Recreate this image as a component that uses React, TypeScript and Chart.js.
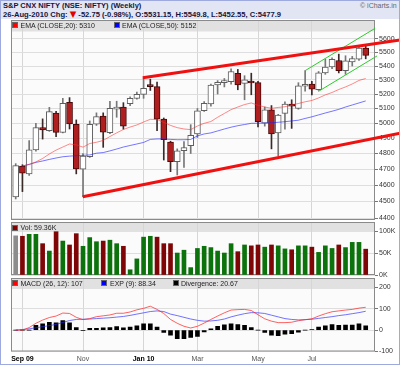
import React, { useEffect, useRef } from "react";
import { Chart, registerables } from "chart.js";

Chart.register(...registerables);

const FONT = '"Liberation Sans", Arial, Helvetica, sans-serif';

// ---------- data (weekly bars) ----------
const weekEnding = [
  "2009-08-28", "2009-09-04", "2009-09-11", "2009-09-18", "2009-09-25",
  "2009-10-02", "2009-10-09", "2009-10-16", "2009-10-23", "2009-10-30",
  "2009-11-06", "2009-11-13", "2009-11-20", "2009-11-27",
  "2009-12-04", "2009-12-11", "2009-12-18", "2009-12-24", "2009-12-31",
  "2010-01-08", "2010-01-15", "2010-01-22", "2010-01-29",
  "2010-02-05", "2010-02-12", "2010-02-19", "2010-02-26",
  "2010-03-05", "2010-03-12", "2010-03-19", "2010-03-26",
  "2010-04-01", "2010-04-09", "2010-04-16", "2010-04-23", "2010-04-30",
  "2010-05-07", "2010-05-14", "2010-05-21", "2010-05-28",
  "2010-06-04", "2010-06-11", "2010-06-18", "2010-06-25",
  "2010-07-02", "2010-07-09", "2010-07-16", "2010-07-23", "2010-07-30",
  "2010-08-06", "2010-08-13", "2010-08-20", "2010-08-26",
];

const opens = [
  4527, 4720, 4670, 4823, 4970, 4950, 5069, 4939, 5143, 4993,
  4700, 4780, 4993, 5048, 4937, 5095, 5110, 5133, 5170, 5198,
  5262, 5252, 5027, 4875, 4748, 4818, 4851, 4928, 5085, 5131,
  5264, 5280, 5287, 5347, 5275, 5290, 5280, 5000, 5090, 4935,
  5066, 5130, 5100, 5255, 5270, 5230, 5350, 5393, 5440, 5367,
  5430, 5450, 5531.15,
];
const highs = [
  4735, 4728, 4884, 4999, 5029, 5108, 5080, 5170, 5175, 5022,
  4800, 5015, 5070, 5070, 5150, 5150, 5140, 5180, 5214, 5312,
  5305, 5285, 5035, 4880, 4830, 4877, 4990, 5100, 5148, 5270,
  5295, 5310, 5380, 5375, 5330, 5348, 5290, 5110, 5120, 5060,
  5145, 5160, 5280, 5366, 5290, 5360, 5450, 5460, 5487, 5475,
  5470, 5545, 5549.8,
];
const lows = [
  4515, 4560, 4660, 4815, 4894, 4945, 4910, 4935, 4961, 4670,
  4529, 4775, 4985, 4840, 4930, 5040, 4960, 5120, 5165, 5170,
  5225, 4950, 4758, 4684, 4663, 4711, 4800, 4905, 5080, 5115,
  5200, 5250, 5270, 5230, 5160, 5195, 4975, 4980, 4830, 4785,
  4960, 4965, 5095, 5220, 5193, 5225, 5340, 5380, 5350, 5340,
  5400, 5440, 5452.55,
];
const closes = [
  4722, 4674, 4823, 4970, 4955, 5078, 4939, 5136, 4995, 4701,
  4784, 4993, 5044, 4940, 5101, 5110, 4980, 5170, 5198, 5240,
  5252, 5027, 4890, 4748, 4818, 4838, 4919, 5083, 5136, 5264,
  5283, 5295, 5360, 5264, 5300, 5278, 5010, 5090, 4928, 5055,
  5130, 5115, 5258, 5269, 5235, 5350, 5393, 5449, 5367, 5437,
  5455, 5531, 5477.9,
];

const ema20 = [
  null, 4720, 4730, 4746, 4768, 4797, 4822, 4842, 4862, 4856,
  4841, 4865, 4873, 4885, 4911, 4935, 4958, 4974, 4988, 5008,
  5026, 5025, 5005, 4985, 4970, 4961, 4957, 4981, 4999, 5011,
  5040, 5066, 5092, 5110, 5127, 5138, 5122, 5110, 5101, 5107,
  5112, 5124, 5134, 5146, 5155, 5173, 5194, 5211, 5232, 5250,
  5271, 5296, 5310,
];
const ema50 = [
  null, 4720, 4730, 4743, 4752, 4762, 4771, 4779, 4783, 4786,
  4788, 4791, 4802, 4806, 4817, 4829, 4842, 4852, 4862, 4872,
  4892, 4895, 4895, 4892, 4890, 4890, 4892, 4915, 4928, 4935,
  4948, 4961, 4973, 4983, 4991, 4999, 5000, 5001, 5003, 5006,
  5010, 5015, 5020, 5032, 5043, 5056, 5069, 5081, 5094, 5110,
  5124, 5138, 5152,
];

// volume in thousands
const volumeK = [
  90, 89, 93.5, 93.5, 72, 55, 99.5, 78, 69, 95,
  66, 86, 76.5, 78, 80, 72, 66, 12, 37, 87,
  89, 87, 72, 72, 50.5, 57, 17, 61, 66, 63,
  55, 50.5, 72, 53.6, 69, 67, 69, 64, 69, 67,
  60, 58, 67, 67, 64, 52, 67, 61, 69, 63,
  75, 75, 59.36,
];

const macd = [
  0, 0, 12, 32, 47, 59, 66, 80, 78, 60,
  49, 54, 63, 67, 71, 79, 79, 85, 95, 102,
  112, 97, 78, 50, 32, 18, 10, 18, 33, 50,
  66, 81, 94, 96, 97, 92, 72, 53, 42, 35,
  35, 37, 44, 49, 53, 66, 77, 86, 90, 94,
  97, 103, 107,
];
const signal = [
  0, 3, 6, 11, 16, 21, 27, 36, 45, 50,
  51, 52, 54, 56, 58, 61, 64, 69, 75, 81,
  87, 90, 87, 75, 68, 60, 52, 46, 42, 43,
  46, 52, 62, 70, 77, 82, 81, 78, 70, 62,
  54, 50, 48, 49, 51, 55, 59, 63, 68, 72,
  77, 82, 88.34,
];
const divergence = [
  0, 0, 0, 22, 29, 37, 34, 45, 34, 12,
  -3, 8, 8, 11, 12, 17, 11, 14, 20, 29,
  29, 14, -11, -23, -40, -40, -34, -29, -8, 6,
  18, 25, 30, 26, 22, 12, 0, -11, -23, -26,
  -19, -17, -9, 0, 2, 14, 20, 26, 23, 24,
  24, 29, 20.67,
];

// trendlines drawn on the chart (bar index, price)
const upperChannel = [{ x: 18.87, y: 5316 }, { x: 57.1, y: 5592 }];
const lowerChannel = [{ x: 9.96, y: 4529 }, { x: 57.1, y: 4933 }];
const upperFlag = [{ x: 42.99, y: 5366 }, { x: 53.39, y: 5681 }];
const lowerFlag = [{ x: 44.96, y: 5218 }, { x: 53.69, y: 5474 }];

const monthTickIdx = [1, 10, 19, 27, 36, 44];
const monthTickLabels = ["Sep 09", "Nov", "Jan 10", "Mar", "May", "Jul"];
const priceTicks = [4400, 4500, 4600, 4700, 4800, 4900, 5000, 5100, 5200, 5300, 5400, 5500, 5600];
const volumeTicks = [0, 50, 100];
const macdTicks = [-100, 0, 100, 200];

// ---------- helpers ----------
const idx = weekEnding.map((_, i) => i);
const X_MIN = -0.698;
const X_MAX = 53.38;

function xAxis(showLabels: boolean): any {
  return {
    type: "linear",
    min: X_MIN,
    max: X_MAX,
    offset: false,
    bounds: "data",
    afterBuildTicks: (s: any) => {
      s.ticks = monthTickIdx.map((v) => ({ value: v }));
    },
    afterFit: (s: any) => {
      s.height = showLabels ? 13.5 : 0;
    },
    grid: { color: "#d6d6d6", drawTicks: false, lineWidth: 1, offset: false },
    border: { display: false },
    ticks: showLabels
      ? {
          display: true,
          autoSkip: false,
          maxRotation: 0,
          padding: 3,
          callback: (v: number) => {
            const k = monthTickIdx.indexOf(v);
            return k >= 0 ? monthTickLabels[k] : "";
          },
          font: (c: any) => ({
            family: FONT,
            size: 7,
            weight: /\d/.test(monthTickLabels[c.index] || "") ? "bold" : "normal",
          }),
          color: (c: any) => (/\d/.test(monthTickLabels[c.index] || "") ? "#000" : "#555"),
        }
      : { display: false },
  };
}

function yAxis(extra: any, tickValues: number[], fmt: (v: number) => string, hidden: number[]): any {
  return {
    position: "right",
    ...extra,
    afterBuildTicks: (s: any) => {
      s.ticks = tickValues.map((v) => ({ value: v }));
    },
    afterFit: (s: any) => {
      s.width = 25;
    },
    grid: {
      color: (c: any) => (c.tick && hidden.includes(c.tick.value) ? "rgba(0,0,0,0)" : "#dedede"),
      tickColor: "#777",
      tickLength: 3,
      drawTicks: true,
    },
    border: { display: false },
    ticks: {
      padding: 1,
      color: "#333",
      font: { family: FONT, size: 7 },
      callback: (v: number) => fmt(v),
    },
  };
}

function panelPlugin(bandH: number): any {
  return {
    id: "panel",
    beforeDraw(chart: any) {
      const { ctx, chartArea: a } = chart;
      ctx.save();
      ctx.fillStyle = "#fbfbfb";
      ctx.fillRect(a.left, a.top, a.right - a.left, a.bottom - a.top);
      ctx.fillStyle = "#e1e1e1";
      ctx.fillRect(a.left, a.top, a.right - a.left, bandH);
      ctx.restore();
    },
    beforeDatasetsDraw(chart: any) {
      const { ctx, chartArea: a } = chart;
      ctx.save();
      ctx.strokeStyle = "#8a8a8a";
      ctx.lineWidth = 1;
      ctx.strokeRect(a.left + 0.5, a.top + 0.5, a.right - a.left - 1, a.bottom - a.top - 1);
      ctx.restore();
    },
  };
}

const baseOptions = (padding: any): any => ({
  responsive: false,
  animation: false,
  devicePixelRatio: 1,
  events: [],
  layout: { padding },
  plugins: { legend: { display: false }, tooltip: { enabled: false } },
});

export default function App() {
  const priceRef = useRef<HTMLCanvasElement>(null);
  const volRef = useRef<HTMLCanvasElement>(null);
  const macdRef = useRef<HTMLCanvasElement>(null);

  useEffect(() => {
    const isDown = (i: number) => closes[i] < opens[i];

    const price = new Chart(priceRef.current as HTMLCanvasElement, {
      type: "bar",
      data: {
        datasets: [
          {
            type: "line",
            data: upperChannel,
            borderColor: "#f01010",
            borderWidth: 3,
            pointRadius: 0,
            clip: false,
            order: 0,
          } as any,
          {
            type: "line",
            data: lowerChannel,
            borderColor: "#f01010",
            borderWidth: 3,
            pointRadius: 0,
            clip: false,
            order: 0,
          } as any,
          {
            type: "line",
            data: upperFlag,
            borderColor: "#2bcc2b",
            borderWidth: 1,
            pointRadius: 0,
            clip: false,
            order: 0,
          } as any,
          {
            type: "line",
            data: lowerFlag,
            borderColor: "#2bcc2b",
            borderWidth: 1,
            pointRadius: 0,
            clip: false,
            order: 0,
          } as any,
          {
            type: "line",
            data: idx.map((i) => ({ x: i, y: ema20[i] })),
            borderColor: "rgba(255,40,40,0.55)",
            borderWidth: 1,
            pointRadius: 0,
            order: 1,
          } as any,
          {
            type: "line",
            data: idx.map((i) => ({ x: i, y: ema50[i] })),
            borderColor: "rgba(30,30,255,0.6)",
            borderWidth: 1,
            pointRadius: 0,
            order: 1,
          } as any,
          {
            type: "bar",
            data: idx.map((i) => ({ x: i, y: [opens[i], closes[i]] })),
            backgroundColor: idx.map((i) => (isDown(i) ? "#b01f1f" : "#ffffff")),
            borderColor: idx.map((i) => (isDown(i) ? "#4a0808" : "#5e5e5e")),
            borderWidth: 1,
            borderSkipped: false,
            barThickness: 6,
            grouped: false,
            minBarLength: 2,
            order: 2,
          } as any,
          {
            type: "bar",
            data: idx.map((i) => ({ x: i, y: [lows[i], highs[i]] })),
            backgroundColor: idx.map((i) => (isDown(i) ? "#3a2a2a" : "#777777")),
            borderWidth: 0,
            barThickness: 1,
            grouped: false,
            order: 3,
          } as any,
        ],
      },
      options: {
        ...baseOptions({ left: 11, right: 0, top: 20, bottom: 145 }),
        scales: {
          x: xAxis(false),
          y: yAxis({ type: "logarithmic", min: 4389, max: 5745 }, priceTicks, (v) => String(v), []),
        },
      },
      plugins: [panelPlugin(11.5)],
    });

    const volume = new Chart(volRef.current as HTMLCanvasElement, {
      type: "bar",
      data: {
        datasets: [
          {
            data: idx.map((i) => ({ x: i, y: volumeK[i] })),
            backgroundColor: idx.map((i) =>
              i === 0 ? "#8c8c8c" : closes[i] >= closes[i - 1] ? "#0c720c" : "#7e0606"
            ),
            borderWidth: 0,
            barThickness: 4,
          } as any,
        ],
      },
      options: {
        ...baseOptions({ left: 11, right: 0, top: 222, bottom: 90 }),
        scales: {
          x: xAxis(false),
          y: yAxis({ type: "linear", min: 0, max: 121.8 }, volumeTicks, (v) => v + "K", [100]),
        },
      },
      plugins: [panelPlugin(10)],
    });

    const osc = new Chart(macdRef.current as HTMLCanvasElement, {
      type: "bar",
      data: {
        datasets: [
          {
            type: "line",
            data: idx.map((i) => ({ x: i, y: macd[i] })),
            borderColor: "rgba(255,30,30,0.7)",
            borderWidth: 1,
            pointRadius: 0,
            order: 0,
          } as any,
          {
            type: "line",
            data: idx.map((i) => ({ x: i, y: signal[i] })),
            borderColor: "rgba(40,40,255,0.65)",
            borderWidth: 1,
            pointRadius: 0,
            order: 0,
          } as any,
          {
            type: "bar",
            data: idx.map((i) => ({ x: i, y: divergence[i] })),
            backgroundColor: "#000000",
            borderWidth: 0,
            barThickness: 4,
            order: 1,
          } as any,
        ],
      },
      options: {
        ...baseOptions({ left: 11, right: 0, top: 278, bottom: 0 }),
        scales: {
          x: xAxis(true),
          y: yAxis({ type: "linear", min: -100, max: 244 }, macdTicks, (v) => String(v), [200]),
        },
      },
      plugins: [panelPlugin(11)],
    });

    return () => {
      price.destroy();
      volume.destroy();
      osc.destroy();
    };
  }, []);

  const canvasStyle: React.CSSProperties = { position: "absolute", left: 0, top: 0 };
  const txt = (left: number, top: number, extra: React.CSSProperties = {}): React.CSSProperties => ({
    position: "absolute",
    left,
    top,
    fontSize: 7,
    lineHeight: "9px",
    whiteSpace: "nowrap",
    color: "#222",
    ...extra,
  });
  const sw = (left: number, top: number, color: string): React.CSSProperties => ({
    position: "absolute",
    left,
    top,
    width: 4,
    height: 4,
    background: color,
    outline: "1px solid #666",
  });

  return (
    <div
      style={{
        position: "fixed",
        left: 0,
        top: 0,
        width: 400,
        height: 365,
        background: "#ffffff",
        overflow: "hidden",
        fontFamily: FONT,
      }}
    >
      <div style={{ position: "absolute", left: 0, top: 0, width: 400, height: 19, background: "#e2e5f3" }} />
      <div style={txt(3, 1, { fontSize: 7.5, fontWeight: "bold", color: "#15153f" })}>
        S&amp;P CNX NIFTY (NSE: NIFTY) (Weekly)
      </div>
      <div style={txt(3, 9.5, { fontSize: 7.6, fontWeight: "bold", color: "#15153f" })}>
        26-Aug-2010 Chg:{" "}
        <span style={{ color: "#e00000", fontFamily: '"DejaVu Sans", sans-serif', fontSize: 8.5 }}>▼</span>{" "}
        -52.75 (-0.98%), O:5531.15, H:5549.8, L:5452.55, C:5477.9
      </div>
      <div style={txt(360, 1, { color: "#666" })}>© iCharts.in</div>

      <canvas ref={priceRef} width={400} height={365} style={canvasStyle} />
      <canvas ref={volRef} width={400} height={365} style={canvasStyle} />
      <canvas ref={macdRef} width={400} height={365} style={canvasStyle} />

      {/* price legend */}
      <div style={sw(13, 23, "#ff0000")} />
      <div style={txt(20.5, 20.5)}>EMA (CLOSE,20): 5310</div>
      <div style={sw(115, 23, "#0000ff")} />
      <div style={txt(122, 20.5)}>EMA (CLOSE,50): 5152</div>

      {/* volume legend */}
      <div style={sw(13, 225.5, "#800000")} />
      <div style={txt(20.5, 223)}>Vol: 59.36K</div>

      {/* MACD legend */}
      <div style={sw(13, 281, "#ff0000")} />
      <div style={txt(20.5, 278.8)}>MACD (26, 12): 107</div>
      <div style={sw(102, 281, "#0000ff")} />
      <div style={txt(110, 278.8)}>EXP (9): 88.34</div>
      <div style={sw(173.5, 281, "#000000")} />
      <div style={txt(181, 278.8)}>Divergence: 20.67</div>

      <div
        style={{
          position: "absolute",
          left: 0,
          top: 0,
          width: 400,
          height: 365,
          boxSizing: "border-box",
          border: "1px solid #9eaade",
          pointerEvents: "none",
        }}
      />
    </div>
  );
}
